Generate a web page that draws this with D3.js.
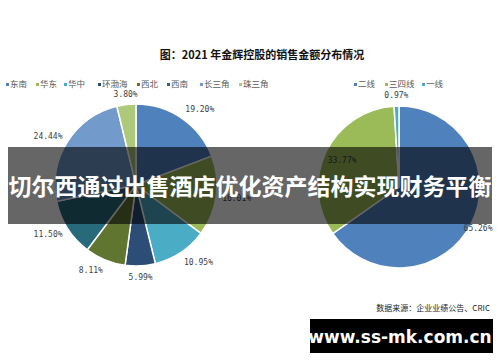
<!DOCTYPE html>
<html>
<head>
<meta charset="utf-8">
<script src="https://cdn.jsdelivr.net/npm/d3@7"></script>
<style>
  body { margin: 0; background: #fff; }
  svg { display: block; }
</style>
</head>
<body>
<div class="chart"></div>
<script>
let width = 500
let height = 362

// left pie: regions
const regions = ["东南", "华东", "华中", "环渤海", "西北", "西南", "长三角", "珠三角"]
const regionShare = [19.20, 16.01, 10.95, 5.99, 8.11, 11.50, 24.44, 3.80]
const regionColors = ["#4f81bd", "#9bbb59", "#4bacc6", "#2c4d75", "#5f7530", "#276a7c", "#729aca", "#afc97a"]

// right pie: city tiers
const tiers = ["二线", "三四线", "一线"]
const tierShare = [65.26, 33.77, 0.97]
const tierColors = ["#4f81bd", "#9bbb59", "#4bacc6"]

const svg = d3.select(".chart")
    .append("svg")
    .attr("width", width)
    .attr("height", height)
    .style("font-family", "'Noto Sans CJK SC', sans-serif")

svg.append("text")
    .attr("x", 262)
    .attr("y", 59)
    .attr("text-anchor", "middle")
    .attr("font-size", 11)
    .attr("font-weight", "bold")
    .attr("fill", "#111")
    .text("图：2021 年金辉控股的销售金额分布情况")

// labelMode: "out" puts the label outside the rim, a number puts it centred at that fraction of r
function drawPie(cx, cy, r, names, values, colors, legendXs, labelMode) {
    const g = svg.append("g").attr("transform", `translate(${cx}, ${cy})`)
    const pie = d3.pie().sort(null)
    const arcs = pie(values)
    const arc = d3.arc().innerRadius(0).outerRadius(r)

    g.selectAll("path")
        .data(arcs)
        .enter()
        .append("path")
        .attr("d", arc)
        .attr("fill", (d, i) => colors[i])
        .attr("stroke", "#fff")
        .attr("stroke-width", 1.5)

    g.selectAll(".lbl")
        .data(arcs)
        .enter()
        .append("text")
        .attr("class", "lbl")
        .each(function(d, i) {
            const a = (d.startAngle + d.endAngle) / 2
            const s = Math.sin(a), c = Math.cos(a)
            const mode = labelMode[i]
            let x, y, anchor = "middle"
            if (mode === "out") {
                const lr = r + 6
                if (s > 0.35) anchor = "start"
                else if (s < -0.35) anchor = "end"
                x = s * lr
                y = -c * lr + 3 - c * 5
            } else {
                x = s * r * mode
                y = -c * r * mode + 3
            }
            d3.select(this)
                .attr("x", x)
                .attr("y", y)
                .attr("text-anchor", anchor)
        })
        .attr("font-size", 8)
        .attr("font-family", "'DejaVu Sans Mono', monospace")
        .attr("fill", "#404040")
        .text(d => d.data.toFixed(2) + "%")

    const leg = svg.append("g")
        .selectAll("g")
        .data(names)
        .enter()
        .append("g")
        .attr("transform", (d, i) => `translate(${legendXs[i]}, 87)`)
    leg.append("rect")
        .attr("x", 0)
        .attr("y", -4)
        .attr("width", 3)
        .attr("height", 3)
        .attr("fill", (d, i) => colors[i])
    leg.append("text")
        .attr("x", 4)
        .attr("y", 0)
        .attr("font-size", 8.5)
        .attr("fill", "#595959")
        .text(d => d)
}

drawPie(136, 185, 81, regions, regionShare, regionColors,
    [6, 36, 64, 98, 137, 167, 200, 239],
    ["out", "out", "out", "out", "out", "out", "out", "out"])
drawPie(399, 187, 81, tiers, tierShare, tierColors,
    [354, 385, 422],
    [1.1, 0.78, "out"])

// banner overlay
svg.append("rect")
    .attr("x", 8)
    .attr("y", 147)
    .attr("width", 484)
    .attr("height", 77)
    .attr("fill", "rgba(0,0,0,0.6)")

svg.append("text")
    .attr("x", 250)
    .attr("y", 195)
    .attr("text-anchor", "middle")
    .attr("font-size", 23)
    .attr("font-weight", "bold")
    .attr("fill", "#fff")
    .text("切尔西通过出售酒店优化资产结构实现财务平衡")

svg.append("text")
    .attr("x", 490)
    .attr("y", 311)
    .attr("text-anchor", "end")
    .attr("font-size", 8)
    .attr("fill", "#222")
    .text("数据来源：企业业绩公告、CRIC")

svg.append("rect")
    .attr("x", 310)
    .attr("y", 319)
    .attr("width", 183)
    .attr("height", 34)
    .attr("fill", "#000")

svg.append("text")
    .attr("x", 400)
    .attr("y", 343)
    .attr("text-anchor", "middle")
    .attr("font-size", 17)
    .attr("font-weight", "bold")
    .attr("font-family", "'DejaVu Sans', sans-serif")
    .attr("fill", "#fff")
    .text("www.ss-mk.com.cn")
</script>
</body>
</html>
